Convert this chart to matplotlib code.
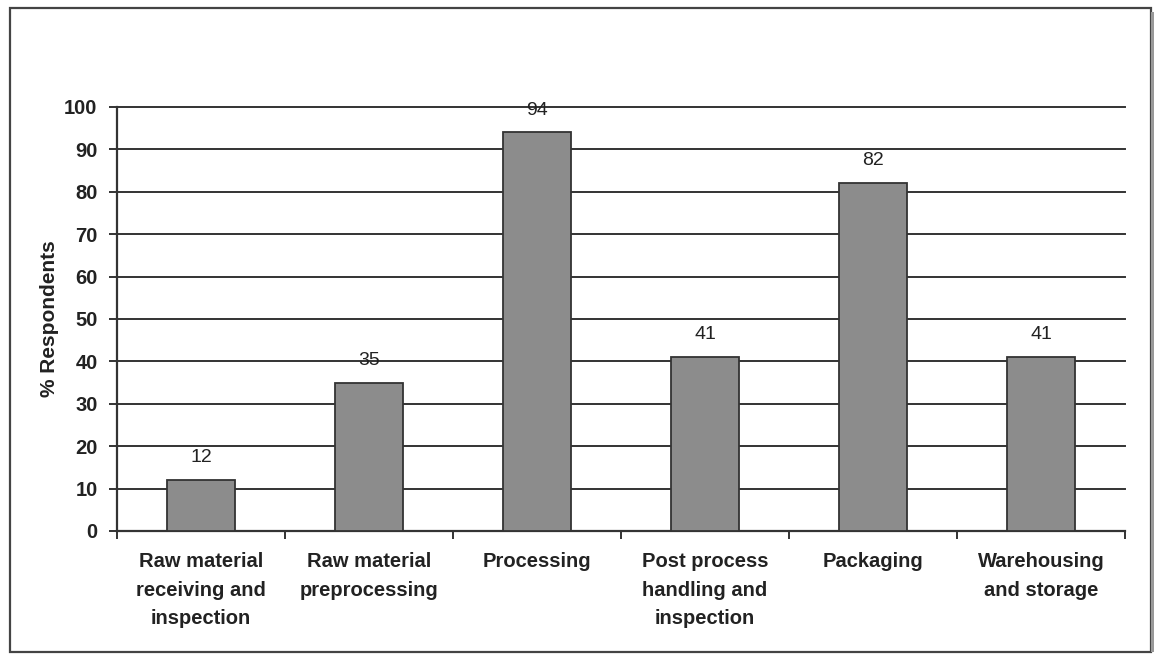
import numpy as np
import matplotlib.pyplot as plt
from matplotlib.patches import Rectangle

plt.rcParams['font.family'] = ['Liberation Sans', 'DejaVu Sans']

stages = ['Raw material\nreceiving and\ninspection', 'Raw material\npreprocessing',
          'Processing', 'Post process\nhandling and\ninspection', 'Packaging',
          'Warehousing\nand storage']
pct = [12, 35, 94, 41, 82, 41]
yticks = list(range(0, 101, 10))

W, H = 1159, 654
fig = plt.figure(figsize=(W / 100, H / 100), dpi=100)

# outer frame with a small shadow on the right
fig.add_artist(Rectangle((10 / W, 1 - 652 / H), 1141 / W, 644 / H, transform=fig.transFigure,
                         fill=False, edgecolor='#444444', lw=1.6))
fig.add_artist(Rectangle((1151 / W, 1 - 652 / H), 3 / W, 640 / H, transform=fig.transFigure,
                         facecolor='#999999', edgecolor='none'))

ax = fig.add_axes([117 / W, 1 - 531 / H, (1125 - 117) / W, (531 - 107) / H])
x = np.arange(len(stages))
ax.bar(x, pct, width=0.4, color='#8c8c8c', edgecolor='#333333', linewidth=1.3, zorder=3)
for xi, v in zip(x, pct):
    ax.annotate(str(v), (xi, v), xytext=(0, 10), textcoords='offset points',
                ha='center', va='bottom', fontsize=14, color='#222222')

ax.set_xlim(-0.5, len(stages) - 0.5)
ax.set_ylim(0, 100)
ax.set_yticks(yticks)
ax.set_yticklabels([str(t) for t in yticks], fontsize=14.5, fontweight='bold', color='#222222')
ax.yaxis.grid(True, color='#333333', linewidth=1.4, zorder=0)
for gl in ax.get_ygridlines():
    gl.set_clip_on(False)
ax.set_axisbelow(True)

# category labels between boundary ticks
ax.set_xticks(np.arange(len(stages) + 1) - 0.5)
ax.set_xticklabels([])
ax.set_xticks(x, minor=True)
ax.set_xticklabels(stages, minor=True, fontsize=14.5, fontweight='bold', color='#222222',
                   linespacing=1.65)
ax.tick_params(axis='x', which='minor', length=0, pad=15)
ax.tick_params(axis='x', which='major', length=6, width=1.4, color='#333333')
ax.tick_params(axis='y', length=6, width=1.4, color='#333333', pad=8)

ax.spines['top'].set_visible(False)
ax.spines['right'].set_visible(False)
for s in ('left', 'bottom'):
    ax.spines[s].set_color('#333333')
    ax.spines[s].set_linewidth(1.6)

ax.set_ylabel('% Respondents', fontsize=15, fontweight='bold', color='#222222', labelpad=4)

fig.savefig('out.png', dpi=100)
